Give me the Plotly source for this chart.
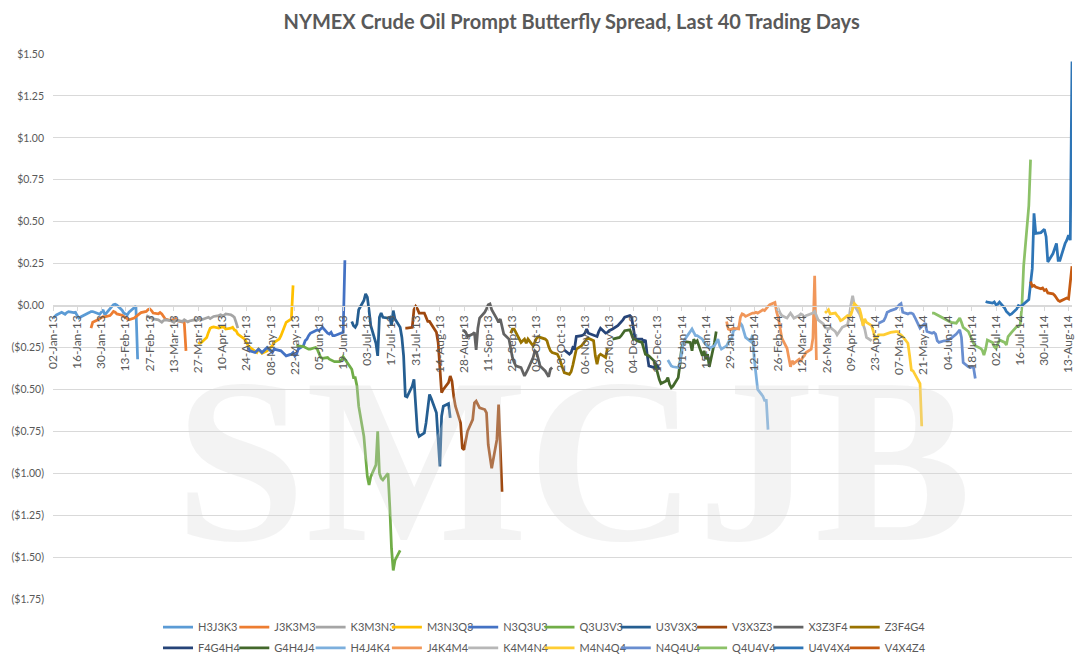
import pandas as pd
import plotly.graph_objects as go

# ── Data: daily prompt butterfly values, last ~40 trading days per strip ─────

series_names = [
    'H3J3K3', 'J3K3M3', 'K3M3N3', 'M3N3Q3', 'N3Q3U3',
    'Q3U3V3', 'U3V3X3', 'V3X3Z3', 'X3Z3F4', 'Z3F4G4',
    'F4G4H4', 'G4H4J4', 'H4J4K4', 'J4K4M4', 'K4M4N4',
    'M4N4Q4', 'N4Q4U4', 'Q4U4V4', 'U4V4X4', 'V4X4Z4',
]

# last trading day shown for each strip
end_dates = [
    '2013-02-20', '2013-03-20', '2013-04-19', '2013-05-21', '2013-06-20',
    '2013-07-22', '2013-08-20', '2013-09-19', '2013-10-18', '2013-11-19',
    '2013-12-19', '2014-01-21', '2014-02-20', '2014-03-20', '2014-04-21',
    '2014-05-20', '2014-06-20', '2014-07-22', '2014-08-15', '2014-08-15',
]

h3j3k3 = [-0.075, -0.065, -0.056, -0.04, -0.045, -0.052, -0.042, -0.036, -0.042,
          -0.04, -0.06, -0.075, -0.068, -0.055, -0.048, -0.042, -0.036, -0.036,
          -0.048, -0.052, -0.04, -0.026, -0.056, -0.016, -0.005, 0.005, 0.008,
          0.002, -0.028, -0.045, -0.05, -0.056, -0.04, -0.01, -0.004, -0.32]
j3k3m3 = [-0.135, -0.1, -0.085, -0.078, -0.072, -0.066, -0.068, -0.06, -0.048,
          -0.035, -0.04, -0.05, -0.058, -0.065, -0.075, -0.082, -0.085, -0.075,
          -0.065, -0.058, -0.05, -0.042, -0.035, -0.025, -0.02, -0.03, -0.045,
          -0.05, -0.042, -0.05, -0.065, -0.08, -0.09, -0.085, -0.095, -0.08,
          -0.09, -0.095, -0.1, -0.27]
k3m3n3 = [-0.06, -0.065, -0.07, -0.075, -0.08, -0.085, -0.095, -0.1, -0.09,
          -0.085, -0.09, -0.095, -0.1, -0.088, -0.09, -0.095, -0.085, -0.09,
          -0.098, -0.092, -0.085, -0.09, -0.082, -0.078, -0.085, -0.075, -0.07,
          -0.078, -0.07, -0.065, -0.06, -0.055, -0.06, -0.058, -0.05, -0.055,
          -0.062, -0.07, -0.1, -0.135]
m3n3q3 = [-0.22, -0.225, -0.22, -0.19, -0.16, -0.135, -0.13, -0.128, -0.135,
          -0.13, -0.128, -0.13, -0.14, -0.135, -0.13, -0.145, -0.15, -0.17,
          -0.19, -0.2, -0.22, -0.24, -0.25, -0.27, -0.28, -0.26, -0.27, -0.285,
          -0.27, -0.26, -0.25, -0.24, -0.22, -0.2, -0.18, -0.15, -0.12, -0.1,
          -0.08, 0.12]
n3q3u3 = [-0.25, -0.27, -0.28, -0.27, -0.26, -0.27, -0.28, -0.25, -0.26, -0.27,
          -0.28, -0.26, -0.27, -0.27, -0.28, -0.29, -0.3, -0.29, -0.28, -0.3,
          -0.29, -0.26, -0.24, -0.21, -0.2, -0.18, -0.165, -0.15, -0.145, -0.15,
          -0.14, -0.13, -0.165, -0.17, -0.16, -0.18, -0.18, -0.17, -0.165, -0.16,
          0.27]
q3u3v3 = [-0.235, -0.24, -0.245, -0.25, -0.255, -0.26, -0.26, -0.25, -0.26,
          -0.29, -0.31, -0.315, -0.31, -0.32, -0.325, -0.33, -0.335, -0.335,
          -0.325, -0.305, -0.32, -0.34, -0.38, -0.43, -0.43, -0.48, -0.6, -0.78,
          -0.9, -1.02, -1.07, -1.02, -0.95, -0.75, -1.0, -1.03, -1.04, -1.0,
          -1.2, -1.45, -1.58, -1.52, -1.46]
u3v3x3 = [-0.095, -0.12, -0.13, -0.11, -0.025, 0.03, 0.07, 0.05, -0.03, -0.12,
          -0.225, -0.3, -0.07, -0.045, -0.07, -0.075, -0.07, -0.12, -0.03, -0.08,
          -0.13, -0.19, -0.3, -0.54, -0.545, -0.48, -0.44, -0.62, -0.75, -0.78,
          -0.76, -0.7, -0.6, -0.53, -0.555, -0.64, -0.8, -0.96, -0.66, -0.6,
          -0.585, -0.67]
v3x3z3 = [-0.135, -0.135, -0.13, -0.025, -0.005, -0.02, -0.045, -0.045, -0.07,
          -0.095, -0.095, -0.11, -0.16, -0.22, -0.4, -0.52, -0.5, -0.46, -0.42,
          -0.45, -0.54, -0.6, -0.7, -0.85, -0.86, -0.79, -0.75, -0.68, -0.58,
          -0.57, -0.59, -0.61, -0.62, -0.64, -0.83, -0.91, -0.97, -0.8, -0.59,
          -0.85, -1.11]
x3z3f4 = [-0.15, -0.15, -0.16, -0.185, -0.17, -0.16, -0.265, -0.135, -0.075,
          -0.04, -0.02, 0.005, 0.01, -0.025, -0.08, -0.1, -0.08, -0.12, -0.17,
          -0.2, -0.27, -0.31, -0.34, -0.36, -0.37, -0.4, -0.42, -0.4, -0.38,
          -0.31, -0.27, -0.28, -0.32, -0.36, -0.39, -0.41, -0.425, -0.38, -0.37]
z3f4g4 = [-0.165, -0.14, -0.14, -0.16, -0.22, -0.21, -0.2, -0.225, -0.2, -0.24,
          -0.22, -0.195, -0.185, -0.19, -0.2, -0.21, -0.245, -0.27, -0.28, -0.29,
          -0.31, -0.34, -0.375, -0.4, -0.41, -0.395, -0.355, -0.3, -0.26, -0.24,
          -0.225, -0.21, -0.2, -0.195, -0.21, -0.3, -0.35, -0.3, -0.29, -0.31,
          -0.255]
f4g4h4 = [-0.265, -0.29, -0.28, -0.25, -0.255, -0.185, -0.18, -0.175, -0.165,
          -0.14, -0.165, -0.175, -0.18, -0.185, -0.155, -0.135, -0.165, -0.16,
          -0.15, -0.145, -0.14, -0.12, -0.11, -0.1, -0.085, -0.07, -0.06, -0.07,
          -0.15, -0.195, -0.2, -0.2, -0.215, -0.205, -0.29, -0.36, -0.37, -0.35,
          -0.36, -0.38]
g4h4j4 = [-0.2, -0.19, -0.19, -0.18, -0.165, -0.15, -0.145, -0.18, -0.2, -0.2,
          -0.21, -0.22, -0.26, -0.29, -0.295, -0.3, -0.33, -0.36, -0.4, -0.44,
          -0.465, -0.45, -0.43, -0.47, -0.49, -0.48, -0.43, -0.35, -0.25, -0.22,
          -0.215, -0.22, -0.27, -0.2, -0.22, -0.21, -0.3, -0.27, -0.32, -0.29,
          -0.365, -0.22, -0.155]
h4j4k4 = [-0.325, -0.34, -0.36, -0.365, -0.37, -0.34, -0.29, -0.22, -0.2, -0.16,
          -0.14, -0.16, -0.18, -0.18, -0.2, -0.22, -0.23, -0.24, -0.255, -0.24,
          -0.22, -0.2, -0.24, -0.26, -0.24, -0.215, -0.2, -0.195, -0.15, -0.13,
          -0.105, -0.12, -0.155, -0.19, -0.215, -0.175, -0.315, -0.42, -0.5,
          -0.54, -0.565, -0.565, -0.74]
j4k4m4 = [-0.095, -0.14, -0.145, -0.14, -0.135, -0.14, -0.07, -0.05, -0.055,
          -0.065, -0.05, -0.045, -0.045, -0.04, -0.045, -0.025, -0.03, -0.015,
          -0.005, 0.005, 0.018, -0.04, -0.075, -0.135, -0.195, -0.255, -0.305,
          -0.365, -0.33, -0.345, -0.32, -0.335, -0.31, -0.3, -0.28, -0.26,
          -0.195, 0.177, -0.325]
k4m4n4 = [-0.03, -0.02, -0.045, -0.06, -0.075, -0.06, -0.045, -0.06, -0.075,
          -0.06, -0.05, -0.055, -0.07, -0.06, -0.05, -0.045, -0.035, -0.06, -0.085,
          -0.11, -0.13, -0.135, -0.14, -0.13, -0.155, -0.175, -0.16, -0.14, -0.13,
          -0.115, -0.07, 0.005, 0.058, 0.0, -0.05, -0.08, -0.11, -0.14, -0.19,
          -0.21]
m4n4q4 = [-0.045, -0.035, -0.025, -0.05, -0.045, -0.06, -0.07, -0.09, -0.085,
          -0.06, -0.065, -0.055, -0.02, 0.012, -0.02, -0.06, -0.12, -0.08, -0.1,
          -0.12, -0.155, -0.2, -0.195, -0.175, -0.175, -0.17, -0.165, -0.165,
          -0.16, -0.155, -0.155, -0.17, -0.175, -0.185, -0.225, -0.3, -0.385,
          -0.39, -0.41, -0.465, -0.72]
n4q4u4 = [-0.105, -0.09, -0.07, -0.04, -0.035, -0.03, -0.02, -0.005, 0.005,
          0.012, -0.04, -0.05, -0.045, -0.045, -0.05, -0.07, -0.135, -0.125,
          -0.115, -0.105, -0.155, -0.165, -0.16, -0.17, -0.21, -0.22, -0.21,
          -0.21, -0.21, -0.2, -0.195, -0.17, -0.16, -0.145, -0.19, -0.34, -0.365,
          -0.37, -0.365, -0.37, -0.435]
q4u4v4 = [-0.045, -0.045, -0.05, -0.055, -0.06, -0.075, -0.085, -0.09, -0.095,
          -0.1, -0.105, -0.09, -0.075, -0.1, -0.13, -0.155, -0.18, -0.205, -0.225,
          -0.24, -0.255, -0.265, -0.295, -0.26, -0.205, -0.22, -0.245, -0.255,
          -0.225, -0.205, -0.22, -0.235, -0.185, -0.175, -0.16, -0.125, -0.125,
          -0.115, -0.005, 0.235, 0.595, 0.87]
u4v4x4 = [0.024, 0.02, 0.015, 0.022, 0.005, 0.008, 0.02, -0.015, -0.035, -0.045,
          -0.055, -0.05, -0.02, 0.0, -0.005, 0.0, 0.01, 0.035, 0.13, 0.22, 0.55,
          0.43, 0.435, 0.445, 0.455, 0.41, 0.26, 0.31, 0.34, 0.37, 0.27, 0.27,
          0.37, 0.39, 0.42, 0.39, 1.455]
v4x4z4 = [0.143, 0.115, 0.12, 0.11, 0.1, 0.105, 0.09, 0.095, 0.075, 0.07, 0.06,
          0.045, 0.03, 0.025, 0.04, 0.045, 0.04, 0.13, 0.235]

series_values = [
    h3j3k3, j3k3m3, k3m3n3, m3n3q3, n3q3u3, q3u3v3, u3v3x3, v3x3z3, x3z3f4, z3f4g4,
    f4g4h4, g4h4j4, h4j4k4, j4k4m4, k4m4n4, m4n4q4, n4q4u4, q4u4v4, u4v4x4, v4x4z4,
]

y_tick_vals = [1.5, 1.25, 1.0, 0.75, 0.5, 0.25, 0.0,
               -0.25, -0.5, -0.75, -1.0, -1.25, -1.5, -1.75]
y_tick_text = ['$1.50', '$1.25', '$1.00', '$0.75', '$0.50', '$0.25', '$0.00',
               '($0.25)', '($0.50)', '($0.75)', '($1.00)', '($1.25)', '($1.50)', '($1.75)']

# Excel 2013 default series palette
line_colors = [
    '#5B9BD5', '#ED7D31', '#A5A5A5', '#FFC000', '#4472C4',
    '#70AD47', '#255E91', '#9E480E', '#636363', '#997300',
    '#264478', '#43682B', '#7CAFDD', '#F1975A', '#B7B7B7',
    '#FFCD33', '#698ED0', '#8CC168', '#2E75B6', '#C55A11',
]

FONT = 'Lato, "Open Sans", sans-serif'
GREY = '#595959'
Y_MIN, Y_MAX = -1.75, 1.5
PLOT_W = 1019            # plot area width in px
LEG_STEP = 76.3          # horizontal spacing of legend entries in px

fig = go.Figure()
legends = {}
for i, (name, end, vals) in enumerate(zip(series_names, end_dates, series_values)):
    dates = pd.bdate_range(end=end, periods=len(vals))
    key = 'legend' if i == 0 else f'legend{i + 1}'
    fig.add_trace(go.Scatter(
        x=dates, y=vals, mode='lines', name=name,
        line=dict(color=line_colors[i], width=2.75),
        legend=key,
    ))
    # one single-entry legend per series: 10 per row, two rows (Excel style)
    col, row = i % 10, i // 10
    legends[key] = dict(
        orientation='h', xanchor='left', yanchor='middle',
        x=(105 + LEG_STEP * col) / PLOT_W, y=-0.0514 if row == 0 else -0.0899,
        itemwidth=30, font=dict(family=FONT, size=11, color=GREY),
        bgcolor='rgba(0,0,0,0)',
    )

# watermark sits on top of the lines, semi-transparent
fig.add_annotation(
    text='<b>SMCJB</b>', xref='paper', yref='paper', x=0.51, y=0.011,
    showarrow=False,
    font=dict(family='"Liberation Serif", "DejaVu Serif", serif', size=235,
              color='rgba(215,215,215,0.3)'),
)

# page body has an 8px margin, so the figure is 16px smaller than the window
fig.update_layout(
    width=1079, height=656,
    margin=dict(l=45, r=15, t=46, b=65, autoexpand=False),
    paper_bgcolor='white', plot_bgcolor='white',
    title=dict(
        text='<b>NYMEX Crude Oil Prompt Butterfly Spread, Last 40 Trading Days</b>',
        x=0.509, xref='paper', xanchor='center',
        y=1 - 14 / 656, yref='container', yanchor='middle',
        font=dict(family=FONT, size=20, color=GREY),
    ),
    font=dict(family=FONT, color=GREY),
    showlegend=True,
    **legends,
)

fig.update_xaxes(
    type='date', range=['2013-01-02', '2014-08-15'],
    anchor='free', position=(0 - Y_MIN) / (Y_MAX - Y_MIN),
    tick0='2013-01-02', dtick=14 * 86400000, tickformat='%d-%b-%y',
    tickangle=-90, tickfont=dict(family=FONT, size=12, color=GREY),
    showgrid=False, showline=True, linecolor='#D9D9D9', linewidth=1,
    ticks='outside', ticklen=4, tickcolor='#D9D9D9', zeroline=False,
)
fig.update_yaxes(
    range=[Y_MIN, Y_MAX], tickvals=y_tick_vals, ticktext=y_tick_text,
    tickfont=dict(family=FONT, size=10.5, color=GREY),
    showgrid=True, gridcolor='#D9D9D9', gridwidth=1,
    zeroline=False, showline=False, ticks='', ticklabelstandoff=8,
)

fig.write_html('out.html')
